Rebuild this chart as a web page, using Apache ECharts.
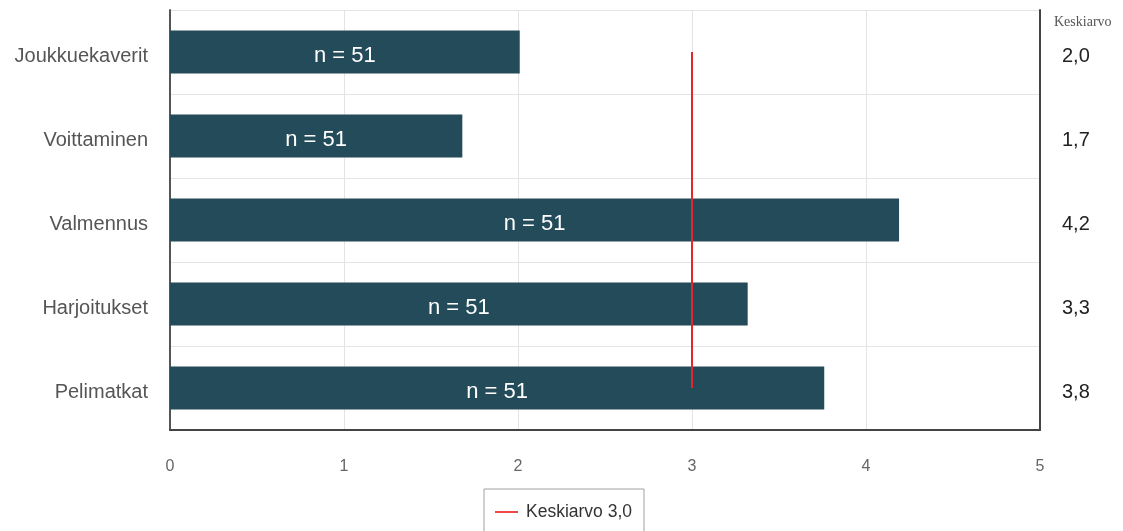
<!DOCTYPE html>
<html>
<head>
<meta charset="utf-8">
<script src="https://cdn.jsdelivr.net/npm/echarts@6/dist/echarts.min.js"></script>
<style>
  html, body { margin: 0; padding: 0; background: #fff; }
  #chart { width: 1123px; height: 531px; }
</style>
</head>
<body>
<div id="chart"></div>
<script>
// Survey topics, mean scores (scale 0–5) and respondent counts
const categories = ['Joukkuekaverit', 'Voittaminen', 'Valmennus', 'Harjoitukset', 'Pelimatkat'];
const means = [2.01, 1.68, 4.19, 3.32, 3.76];
const counts = [51, 51, 51, 51, 51];
const overallMean = 3.0;
const xTicks = [0, 1, 2, 3, 4, 5];

const fmt = v => v.toFixed(1).replace('.', ',');
const font = '"Liberation Sans", Arial, sans-serif';

const chart = echarts.init(document.getElementById('chart'), null, { renderer: 'canvas' });

chart.setOption({
  animation: false,
  backgroundColor: '#ffffff',
  grid: { left: 170, right: 83, top: 10, bottom: 101, containLabel: false },
  legend: {
    left: 484,
    top: 489,
    data: ['Keskiarvo ' + fmt(overallMean)],
    icon: 'rect',
    itemWidth: 23,
    itemHeight: 2,
    borderColor: '#a0a0a0',
    borderWidth: 1,
    borderRadius: 0,
    padding: [14, 12, 30, 11],
    textStyle: { fontFamily: font, fontSize: 17.5, color: '#333', padding: [0, 0, 0, 3] }
  },
  xAxis: {
    type: 'value',
    min: xTicks[0],
    max: xTicks[xTicks.length - 1],
    interval: 1,
    axisLine: { show: true, onZero: false, lineStyle: { color: '#444', width: 2 } },
    axisTick: { show: false },
    axisLabel: { fontFamily: font, fontSize: 16, color: '#666', margin: 29 },
    splitLine: { show: true, lineStyle: { color: '#e4e4e4', width: 1 } }
  },
  yAxis: [
    {
      type: 'category',
      data: categories,
      inverse: true,
      axisLine: { show: true, lineStyle: { color: '#555', width: 2 } },
      axisTick: { show: false },
      axisLabel: {
        fontFamily: font, fontSize: 20, color: '#555', margin: 22,
        verticalAlign: 'top', lineHeight: 8
      },
      splitLine: { show: true, lineStyle: { color: '#e4e4e4', width: 1 } }
    },
    {
      type: 'category',
      data: categories,
      inverse: true,
      position: 'right',
      name: 'Keskiarvo',
      nameLocation: 'start',
      nameGap: -12,
      nameTextStyle: {
        fontFamily: '"Liberation Serif", "Times New Roman", serif',
        fontSize: 14, color: '#555', align: 'left', verticalAlign: 'middle', padding: [0, 0, 0, 14]
      },
      axisLine: { show: true, lineStyle: { color: '#444', width: 2 } },
      axisTick: { show: false },
      axisLabel: {
        fontFamily: font, fontSize: 20, color: '#222', margin: 22,
        verticalAlign: 'top', lineHeight: 8,
        formatter: (v, i) => fmt(means[i])
      },
      splitLine: { show: false }
    }
  ],
  series: [
    {
      name: 'Keskiarvot',
      type: 'bar',
      yAxisIndex: 0,
      data: means,
      barWidth: 43,
      itemStyle: { color: '#244B5A' },
      label: {
        show: true,
        position: 'inside',
        offset: [0, 4],
        fontFamily: font,
        fontSize: 22,
        color: '#ffffff',
        formatter: p => 'n = ' + counts[p.dataIndex]
      },
      z: 2
    },
    {
      name: 'Keskiarvo ' + fmt(overallMean),
      type: 'line',
      yAxisIndex: 0,
      data: categories.map(() => overallMean),
      symbol: 'none',
      lineStyle: { color: '#e3262a', width: 2 },
      itemStyle: { color: '#f04848' },
      z: 3
    }
  ]
});
</script>
</body>
</html>
